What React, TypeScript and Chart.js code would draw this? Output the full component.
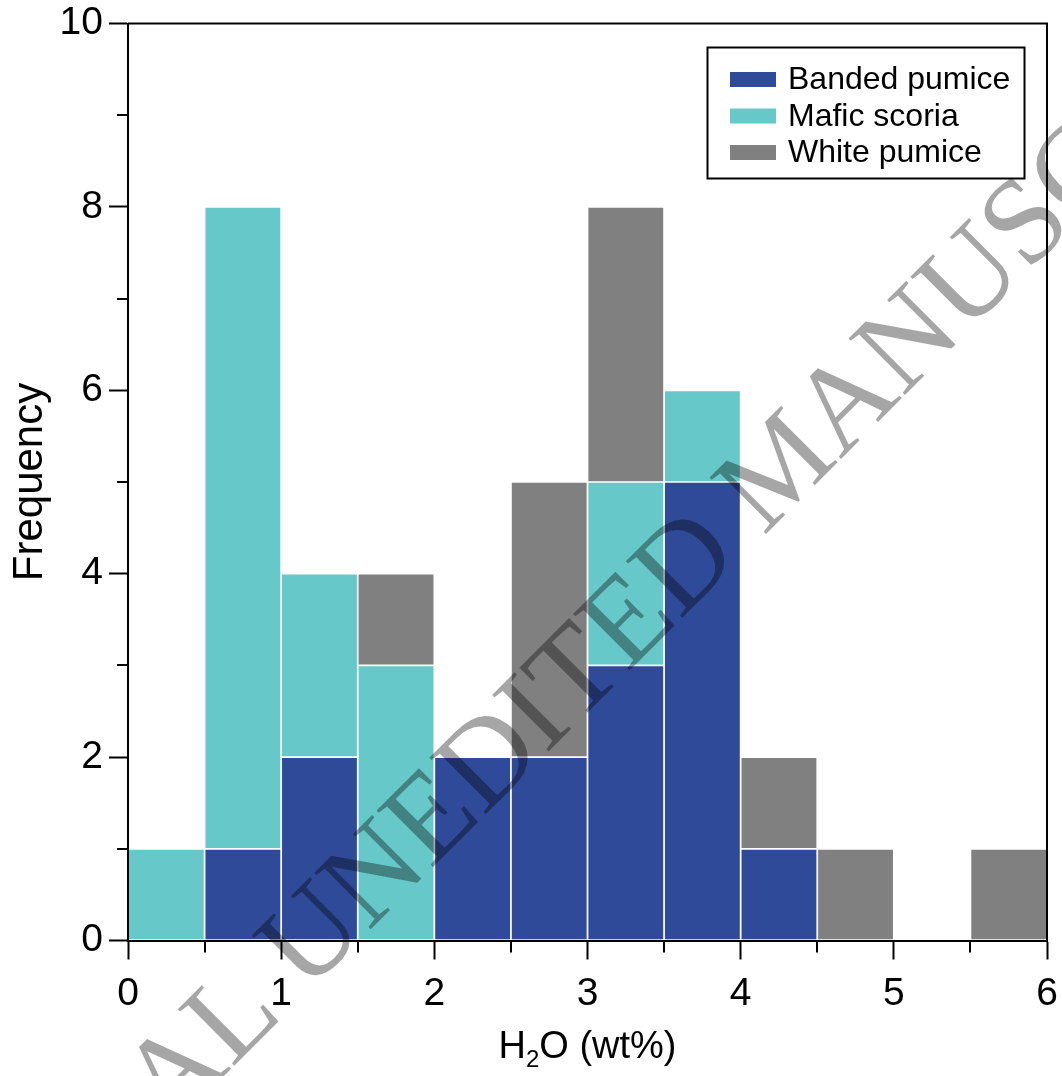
import { useEffect, useRef } from 'react';
import { Chart, registerables } from 'chart.js';

Chart.register(...registerables);

// Histogram bins (centres of 0.5 wt% bins)
const binCenters = [0.25, 0.75, 1.25, 1.75, 2.25, 2.75, 3.25, 3.75, 4.25, 4.75, 5.25, 5.75];
const bandedPumice = [0, 1, 2, 0, 2, 2, 3, 5, 1, 0, 0, 0];
const maficScoria = [1, 7, 2, 3, 0, 0, 2, 1, 0, 0, 0, 0];
const whitePumice = [0, 0, 0, 1, 0, 3, 3, 0, 1, 1, 0, 1];
const seriesLabels = ['Banded pumice', 'Mafic scoria', 'White pumice'];
const seriesColors = ['#2F4A98', '#66C8C8', '#808080'];
const seriesValues = [bandedPumice, maficScoria, whitePumice];

const xMinorTicks = [0.5, 1.5, 2.5, 3.5, 4.5, 5.5];
const yMinorTicks = [1, 3, 5, 7, 9];
const yTitle = 'Frequency';
const xTitleParts = ['H', '2', 'O (wt%)'];
const watermarkText = 'FINAL UNEDITED MANUSCRIPT';
const watermarkPrefix = 'FINAL ';

const SANS = '"Liberation Sans", Arial, Helvetica, sans-serif';
const TICK_FONT = 39;
const Y_TITLE_FONT = 42;
const X_TITLE_FONT = 38;
const LEGEND_FONT = 32;

const decorPlugin = {
  id: 'decor',
  afterDatasetsDraw(chart: any) {
    const { ctx, chartArea: a, scales } = chart;
    const x = scales.x;
    const y = scales.y;
    ctx.save();
    ctx.strokeStyle = '#000';
    ctx.lineWidth = 2;
    ctx.beginPath();
    ctx.moveTo(a.left, a.top);
    ctx.lineTo(a.right, a.top);
    ctx.lineTo(a.right, a.bottom + 1);
    for (const v of xMinorTicks) {
      const px = Math.round(x.getPixelForValue(v));
      ctx.moveTo(px, a.bottom);
      ctx.lineTo(px, a.bottom + 12);
    }
    for (const v of yMinorTicks) {
      const py = Math.round(y.getPixelForValue(v));
      ctx.moveTo(a.left, py);
      ctx.lineTo(a.left - 11, py);
    }
    ctx.stroke();

    // legend box
    const lx = 707, ly = 47, lw = 317, lh = 131;
    ctx.strokeRect(lx + 0.5, ly + 0.5, lw, lh);
    ctx.font = `${LEGEND_FONT}px ${SANS}`;
    ctx.textBaseline = 'middle';
    ctx.textAlign = 'left';
    chart.data.datasets.forEach((ds: any, i: number) => {
      const cy = 79.5 + i * 36.5;
      ctx.fillStyle = ds.backgroundColor;
      ctx.fillRect(730, cy - 7.5, 46, 15);
      ctx.fillStyle = '#000';
      ctx.fillText(ds.label, 788, cy + 1);
    });

    // x-axis title with subscript
    const cx = (a.left + a.right) / 2;
    const base = 1058;
    const subSize = Math.round(X_TITLE_FONT * 0.62);
    ctx.font = `${X_TITLE_FONT}px ${SANS}`;
    const w0 = ctx.measureText(xTitleParts[0]).width;
    const w2 = ctx.measureText(xTitleParts[2]).width;
    ctx.font = `${subSize}px ${SANS}`;
    const w1 = ctx.measureText(xTitleParts[1]).width;
    const total = w0 + w1 + w2;
    let sx = cx - total / 2;
    ctx.textBaseline = 'alphabetic';
    ctx.fillStyle = '#000';
    ctx.font = `${X_TITLE_FONT}px ${SANS}`;
    ctx.fillText(xTitleParts[0], sx, base);
    sx += w0;
    ctx.font = `${subSize}px ${SANS}`;
    ctx.fillText(xTitleParts[1], sx, base + 9);
    sx += w1;
    ctx.font = `${X_TITLE_FONT}px ${SANS}`;
    ctx.fillText(xTitleParts[2], sx, base);
    ctx.restore();
  },
  afterDraw(chart: any) {
    const { ctx } = chart;
    ctx.save();
    ctx.font = '122px "Liberation Serif", "Times New Roman", serif';
    ctx.fillStyle = 'rgba(0,0,0,0.35)';
    ctx.translate(306, 994);
    ctx.rotate(-Math.PI / 4);
    const pre = ctx.measureText(watermarkPrefix).width;
    ctx.textBaseline = 'alphabetic';
    ctx.textAlign = 'left';
    ctx.fillText(watermarkText, -pre, 0);
    ctx.restore();
  },
};

export default function App() {
  const ref = useRef<HTMLCanvasElement>(null);
  useEffect(() => {
    document.body.style.margin = '0';
    const canvas = ref.current!;
    const chart = new Chart(canvas, {
      type: 'bar',
      data: {
        datasets: seriesLabels.map((label, s) => ({
          label,
          data: binCenters
            .map((xv, i) => ({ x: xv, y: seriesValues[s][i] }))
            .filter((d) => d.y > 0),
          backgroundColor: seriesColors[s],
          borderColor: '#ffffff',
          borderWidth: 1.2,
          borderSkipped: false,
          categoryPercentage: 1,
          barPercentage: 1,
        })),
      },
      options: {
        responsive: false,
        animation: false,
        events: [],
        layout: { padding: { top: 23.5, right: 15, left: 0, bottom: 0 } },
        plugins: {
          legend: { display: false },
          tooltip: { enabled: false },
        },
        scales: {
          x: {
            type: 'linear',
            stacked: true,
            offset: false,
            min: 0,
            max: 6,
            ticks: {
              stepSize: 1,
              color: '#000',
              padding: 11,
              font: { size: TICK_FONT, family: SANS },
              maxRotation: 0,
            },
            grid: {
              drawOnChartArea: false,
              drawTicks: true,
              tickLength: 19,
              tickWidth: 2,
              tickColor: '#000',
              offset: false,
            },
            border: { display: true, color: '#000', width: 2, z: 1 },
            afterFit: (scale: any) => {
              scale.height = 135.5;
              scale.paddingLeft = 0;
              scale.paddingRight = 0;
            },
          } as any,
          y: {
            type: 'linear',
            stacked: true,
            min: 0,
            max: 10,
            ticks: {
              stepSize: 2,
              color: '#000',
              padding: 6,
              font: { size: TICK_FONT, family: SANS },
            },
            grid: {
              drawOnChartArea: false,
              drawTicks: true,
              tickLength: 19,
              tickWidth: 2,
              tickColor: '#000',
            },
            border: { display: true, color: '#000', width: 2, z: 1 },
            title: {
              display: true,
              text: yTitle,
              color: '#000',
              font: { size: Y_TITLE_FONT, family: SANS },
              padding: { top: 5, bottom: 0 },
            },
            afterFit: (scale: any) => {
              scale.width = 128;
              scale.paddingTop = 0;
              scale.paddingBottom = 0;
            },
          } as any,
        },
      },
      plugins: [decorPlugin],
    });
    return () => chart.destroy();
  }, []);
  return (
    <div style={{ width: 1062, height: 1076, background: '#fff' }}>
      <canvas ref={ref} width={1062} height={1076} style={{ display: 'block' }} />
    </div>
  );
}
